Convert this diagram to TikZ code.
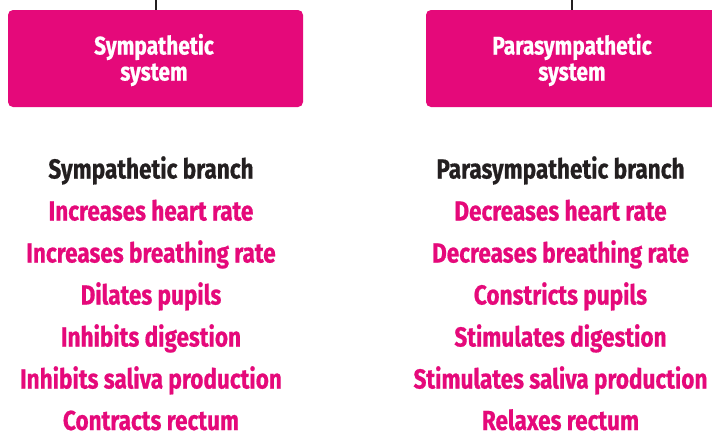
\documentclass[tikz,border=0pt]{standalone}
\usepackage{fontspec}
\setmainfont{Fira Sans}[FakeStretch=0.82, Ligatures={NoCommon}, BoldFeatures={FakeBold=0.6}]
\definecolor{mag}{HTML}{E5097A}
\definecolor{ink}{HTML}{231F20}
\begin{document}
\begin{tikzpicture}[x=1pt,y=-1pt,
  sysbox/.style={fill=mag,rounded corners=5pt,draw=none},
  boxtext/.style={text=white,font=\fontsize{25.5}{25.5}\selectfont\bfseries,align=center,anchor=base},
  head/.style={text=ink,font=\fontsize{27.5}{27.5}\selectfont\bfseries,anchor=base,inner ysep=0pt,text depth=0pt},
  item/.style={text=mag,font=\fontsize{27.5}{27.5}\selectfont\bfseries,anchor=base,inner ysep=0pt,text depth=0pt},
  link/.style={draw=ink,line width=1.6pt}]
\clip (0,0) rectangle (712,434);
\fill[white] (0,0) rectangle (712,434);
% boxes
\path[sysbox] (8,10) rectangle (303,107);
\path[sysbox] (426,10) rectangle (720,107);
\coordinate (b1top) at (156,10);
\coordinate (b2top) at (572,10);
\coordinate (t1) at (156,0);
\coordinate (t2) at (572,0);
\draw[link] (t1) -- (b1top);
\draw[link] (t2) -- (b2top);
\node[boxtext] (s1) at (154,54.5) {Sympathetic};
\node[boxtext] (s2) at (154,80.5) {system};
\node[boxtext] (p1) at (572,54.5) {Parasympathetic};
\node[boxtext] (p2) at (572,80.5) {system};
% left column
\node[head] (lh) at (151,178.5) {Sympathetic branch};
\node[item] (l1) at (151,220.5) {Increases heart rate};
\node[item] (l2) at (151,262.5) {Increases breathing rate};
\node[item] (l3) at (151,304.5) {Dilates pupils};
\node[item] (l4) at (151,346.5) {Inhibits digestion};
\node[item] (l5) at (151,388.5) {Inhibits saliva production};
\node[item] (l6) at (151,430) {Contracts rectum};
% right column
\node[head] (rh) at (560.5,178.5) {Parasympathetic branch};
\node[item] (r1) at (560.5,220.5) {Decreases heart rate};
\node[item] (r2) at (560.5,262.5) {Decreases breathing rate};
\node[item] (r3) at (560.5,304.5) {Constricts pupils};
\node[item] (r4) at (560.5,346.5) {Stimulates digestion};
\node[item] (r5) at (560.5,388.5) {Stimulates saliva production};
\node[item] (r6) at (560.5,430) {Relaxes rectum};
\end{tikzpicture}
\end{document}
